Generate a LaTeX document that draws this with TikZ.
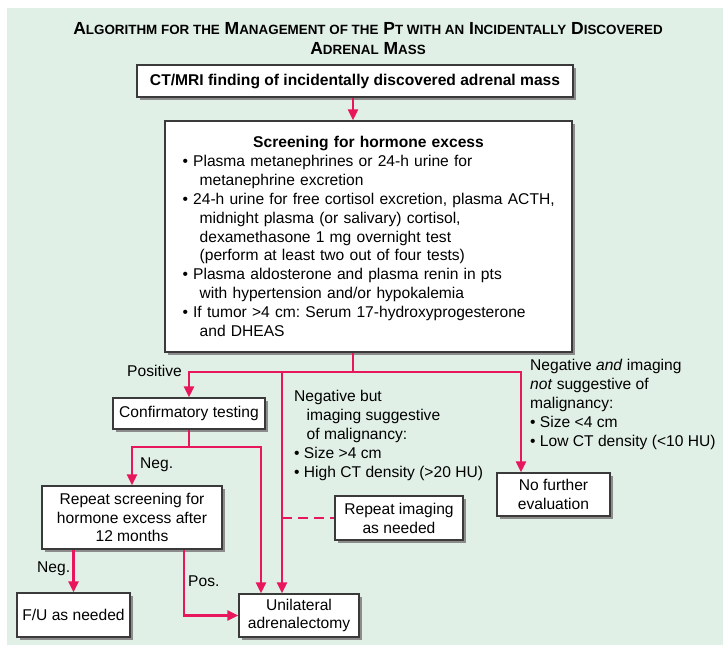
\documentclass[tikz,border=0pt]{standalone}
\usepackage{fontspec}
\setmainfont{Liberation Sans}
\usetikzlibrary{arrows.meta,shadows}
\frenchspacing

\definecolor{bgmint}{HTML}{E1F0E6}
\definecolor{flowred}{HTML}{E8175D}
\definecolor{boxline}{HTML}{3A3A3A}

% fake small caps for the title
\newcommand{\tcap}[2]{#1{\fontsize{13.4}{15}\selectfont #2}}

\begin{document}
\begin{tikzpicture}[x=1pt, y=-1pt, font=\fontsize{15.6}{18.9}\selectfont,
  box/.style={draw=boxline, line width=1.4pt, fill=white, align=center, inner sep=2pt,
    drop shadow={shadow xshift=3pt, shadow yshift=-3pt, fill=black!45, opacity=1}},
  flow/.style={draw=flowred, line width=2.6pt, -{Triangle[length=11pt,width=10pt]}},
  link/.style={draw=flowred, line width=2.6pt},
  lbl/.style={inner sep=0pt, align=left}]
  \useasboundingbox (0,0) rectangle (723,645);
  \fill[bgmint] (7,8) rectangle (723,645);

  % title
  \node[align=center, font=\bfseries\fontsize{17.5}{20}\selectfont] (ttl) at (368,39)
  {\tcap{A}{LGORITHM FOR THE} \tcap{M}{ANAGEMENT OF THE} \tcap{P}{T WITH AN} \tcap{I}{NCIDENTALLY} \tcap{D}{ISCOVERED}\\
   \tcap{A}{DRENAL} \tcap{M}{ASS}};

  % boxes
  \node[box, minimum width=436pt, minimum height=32pt] (ct) at (355,81)
  {\bfseries CT/MRI finding of incidentally discovered adrenal mass};
  \node[box, minimum width=407pt, minimum height=231pt, text width=372pt, align=left] (scr) at (368.5,236.5)
  {\makebox[\linewidth]{\bfseries Screening for hormone excess}\\
   \textbullet\ Plasma metanephrines or 24-h urine for\\
   \hspace*{1.1em}metanephrine excretion\\
   \mbox{\textbullet\ 24-h urine for free cortisol excretion, plasma ACTH,}\\
   \hspace*{1.1em}midnight plasma (or salivary) cortisol,\\
   \hspace*{1.1em}dexamethasone 1 mg overnight test\\
   \hspace*{1.1em}(perform at least two out of four tests)\\
   \textbullet\ Plasma aldosterone and plasma renin in pts\\
   \hspace*{1.1em}with hypertension and/or hypokalemia\\
   \textbullet\ If tumor >4 cm: Serum 17-hydroxyprogesterone\\
   \hspace*{1.1em}and DHEAS};
  \node[box, minimum width=152pt, minimum height=31pt] (conf) at (189,413.5) {Confirmatory testing};
  \node[box, minimum width=180pt, minimum height=63pt] (rep) at (132,517.5)
  {Repeat screening for\\hormone excess after\\12 months};
  \node[box, minimum width=113pt, minimum height=44pt] (fu) at (73.5,615) {F/U as needed};
  \node[box, minimum width=120pt, minimum height=43pt] (uni) at (299,615.5) {Unilateral\\adrenalectomy};
  \node[box, minimum width=128pt, minimum height=44pt] (img) at (399,518) {Repeat imaging\\as needed};
  \node[box, minimum width=113pt, minimum height=43pt] (nofur) at (553.5,494.5) {No further\\evaluation};

  % branch texts
  \node[lbl, anchor=north west] (mal) at (294,390)
  {Negative but\\
   \hspace*{0.8em}imaging suggestive\\
   \hspace*{0.8em}of malignancy:\\
   \textbullet\ Size >4 cm\\
   \textbullet\ High CT density (>20 HU)};
  \node[lbl, anchor=north west] (benign) at (530,359)
  {Negative \textit{and} imaging\\
   \textit{not} suggestive of\\
   malignancy:\\
   \textbullet\ Size <4 cm\\
   \textbullet\ Low CT density (<10 HU)};
  \node[lbl, anchor=east] (lpos) at (182,371) {Positive};
  \node[lbl, anchor=west] (lneg) at (140,465) {Neg.};
  \node[lbl, anchor=west] (lneg2) at (37,569) {Neg.};
  \node[lbl, anchor=west] (lpos2) at (188,581) {Pos.};

  % junctions
  \coordinate (trunk) at (353,372);
  \coordinate (negx) at (521,372);
  \coordinate (malx) at (282,372);
  \coordinate (cjoin) at (189,447);
  \coordinate (cright) at (261,447);
  \coordinate (rposx) at (184,0);

  % connectors
  \draw[flow] (ct.south -| trunk) -- (scr.north -| trunk);
  \draw[link] (scr.south -| trunk) -- (trunk);
  \draw[flow] (trunk) -| (conf.north);
  \draw[flow] (trunk) -- (negx) -- (negx |- nofur.north);
  \draw[flow] (malx) -- (malx |- uni.north);
  \draw[link] (conf.south) -- (cjoin);
  \draw[flow] (cjoin) -| (rep.north);
  \draw[flow] (cjoin) -- (cright) -- (cright |- uni.north);
  \draw[flow] (rep.south -| fu.north) -- (fu.north);
  \draw[flow] (rep.south -| rposx) |- (uni.west);
  \draw[link, dash pattern=on 10pt off 6pt] (malx |- img.west) -- (img.west);
\end{tikzpicture}
\end{document}
